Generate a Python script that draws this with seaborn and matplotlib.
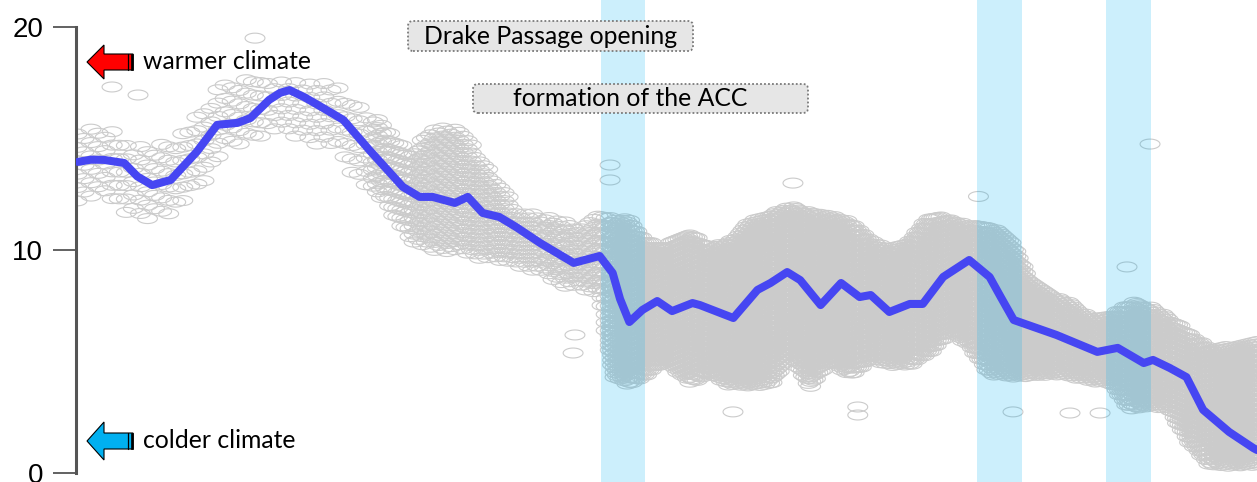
import numpy as np
import matplotlib
matplotlib.use("Agg")
import matplotlib.pyplot as plt
import seaborn as sns
import pandas as pd
from matplotlib.path import Path
from matplotlib.patches import FancyBboxPatch, Polygon, Rectangle
from matplotlib.lines import Line2D

# ---------------- data ----------------
# smoothed curve: age (Ma) and value
curve_age = [63.5, 62.8, 62.1, 61.0, 60.3, 59.5, 58.5, 57.1, 56.0, 54.9, 54.2, 53.2, 52.6, 52.1,
             51.3, 50.3, 49.2, 47.8, 46.0, 45.1, 44.4, 43.2, 42.5, 41.7, 40.8, 39.9, 38.6,
             36.8, 35.4, 34.7, 34.3, 33.8, 33.1, 32.3, 31.5, 30.4, 30.0, 28.2, 26.9, 26.2,
             25.3, 24.6, 23.5, 22.4, 21.4, 20.8, 19.8, 18.7, 18.0, 16.9, 15.5, 14.4, 13.8,
             13.1, 10.8, 8.6, 7.5, 6.1, 5.6, 4.7, 3.8, 2.9, 1.5, 0.2, 0.0]
curve_val = [13.95, 14.05, 14.04, 13.9, 13.3, 12.91, 13.14, 14.4, 15.61, 15.70, 15.92, 16.73,
             17.05, 17.17, 16.85, 16.37, 15.83, 14.48, 12.83, 12.38, 12.38, 12.11, 12.38,
             11.66, 11.48, 11.03, 10.31, 9.42, 9.73, 8.97, 7.8, 6.77, 7.31, 7.71, 7.26, 7.62,
             7.53, 6.95, 8.21, 8.52, 9.01, 8.65, 7.53, 8.52, 7.89, 7.98, 7.22, 7.58, 7.58,
             8.79, 9.55, 8.79, 7.89, 6.86, 6.19, 5.43, 5.61, 4.93, 5.07, 4.71, 4.30, 2.83,
             1.84, 1.12, 1.03]

# envelope of the dense cloud of measurements (age, lower, upper, density level)
cloud_age = [63.4, 61.8, 60.7, 59.6, 58.3, 56.9, 55.6, 54.2, 53.2, 52.1, 51.0, 49.7, 48.3, 47.0,
             45.6, 44.5, 42.9, 41.8, 40.8, 39.7, 38.6, 37.5, 36.5, 35.4, 34.6, 33.8, 33.0,
             31.9, 30.5, 29.5, 28.4, 27.3, 26.2, 25.1, 24.1, 23.0, 21.9, 20.8, 19.8, 18.7,
             17.6, 16.5, 15.5, 14.4, 13.3, 12.2, 11.1, 10.1, 9.0, 7.9, 6.8, 5.8, 4.7, 3.6,
             2.5, 1.5, 0.4, 0.0]
cloud_hi = [15.6, 15.4, 14.7, 14.7, 15.0, 16.2, 17.8, 17.7, 17.5, 17.7, 17.7, 17.5, 16.5, 15.6,
            14.3, 15.5, 15.5, 14.1, 12.9, 11.7, 11.6, 11.4, 11.1, 11.6, 11.4, 11.4, 10.4,
            10.2, 10.8, 10.1, 10.4, 11.3, 11.6, 12.0, 11.7, 11.6, 11.3, 10.5, 10.1, 10.4,
            11.6, 11.4, 11.1, 11.1, 10.5, 8.6, 8.0, 7.7, 7.0, 7.1, 7.7, 7.5, 7.0, 6.2,
            5.6, 5.7, 5.9, 5.9]
cloud_lo = [12.2, 12.4, 11.3, 11.3, 11.7, 12.8, 14.4, 14.8, 15.3, 15.1, 14.8, 14.6, 12.9, 12.2,
            10.4, 9.9, 9.9, 9.6, 9.5, 9.2, 9.0, 8.4, 8.3, 7.9, 4.3, 3.9, 4.3,
            5.0, 4.0, 4.4, 3.9, 3.9, 3.9, 5.4, 3.8, 5.0, 4.3, 5.1, 4.8, 4.8,
            5.4, 6.3, 5.7, 4.4, 4.3, 4.3, 4.4, 4.3, 4.1, 4.0, 2.8, 3.0, 2.8, 1.3,
            0.3, 0.3, 0.3, 0.3]
cloud_level = [0] * 13 + [1] * 11 + [2] * 34

# isolated measurements
outlier_age = [61.66, 60.26, 53.96, 34.84, 34.84, 36.73, 36.83, 28.22, 24.99, 13.14,
               10.07, 8.45, 7.0, 5.76, 15.0, 21.5, 21.5]
outlier_val = [17.31, 16.95, 19.5, 13.81, 13.14, 6.19, 5.38, 2.74, 13.0, 2.74,
               2.69, 2.69, 9.24, 14.75, 12.4, 2.96, 2.6]

# highlighted events (start / end age, Ma)
event_start = [35.33, 15.08, 8.13]
event_end = [32.96, 12.65, 5.71]

y_ticks = [0, 10, 20]
y_ticklabels = ["0", "10", "20"]
box_labels = ["Drake Passage opening", "formation of the ACC"]
arrow_labels = ["warmer climate", "colder climate"]

# ---------------- build cloud points from the envelope ----------------
order = np.argsort(cloud_age)
ca = np.asarray(cloud_age)[order]
clo = np.asarray(cloud_lo)[order]
chi = np.asarray(cloud_hi)[order]
clev = np.asarray(cloud_level)[order]
step_a = {0: 0.38, 1: 0.22, 2: 0.13}
step_v = {0: 0.6, 1: 0.36, 2: 0.22}
pa, pv = [], []
a = 63.55
k = 0
phi = (np.sqrt(5) - 1) / 2
while a > -0.1:
    lev = int(clev[np.argmin(np.abs(ca - a))])
    lo = np.interp(a, ca, clo)
    hi = np.interp(a, ca, chi)
    sv = step_v[lev]
    off = ((k * phi) % 1.0) * sv
    for v in np.arange(lo + off, hi + 1e-9, sv):
        pa.append(a)
        pv.append(v)
    a -= step_a[lev]
    k += 1
cloud = pd.DataFrame({"age": pa + outlier_age, "val": pv + outlier_val})
curve = pd.DataFrame({"age": curve_age, "val": curve_val})

# ---------------- figure ----------------
sns.set_style("white")
plt.rcParams["font.family"] = ["Liberation Sans", "DejaVu Sans"]

W, H = 1257, 482
fig = plt.figure(figsize=(W / 100, H / 100), dpi=100)
ax = fig.add_axes([76 / W, 0, 1 - 76 / W, 1])

theta = np.linspace(0, 2 * np.pi, 48)
ellipse = Path(np.column_stack([np.cos(theta), 0.5 * np.sin(theta)]), closed=True)

sns.scatterplot(data=cloud, x="age", y="val", ax=ax, marker=ellipse, s=205,
                facecolor="none", edgecolor="#cbcbcb", linewidth=0.8, zorder=1,
                legend=False)

for s0, s1 in zip(event_start, event_end):
    ax.axvspan(s0, s1, color="#00B0F0", alpha=0.2, lw=0, zorder=2)

sns.lineplot(data=curve, x="age", y="val", ax=ax, color="#4646F2", linewidth=5.8,
             estimator=None, zorder=3, solid_capstyle="round", solid_joinstyle="round")

ax.set_xlim(63.6, 0)
ax.set_ylim(-0.404, 21.21)
ax.set_xlabel("")
ax.set_ylabel("")
ax.set_xticks([])
ax.set_yticks(y_ticks)
ax.set_yticklabels(y_ticklabels)
ax.tick_params(axis="y", length=16.5, width=1.3, color="#555555", pad=7,
               labelsize=20, labelcolor="black", left=True)
for side in ["top", "right", "bottom"]:
    ax.spines[side].set_visible(False)
ax.spines["left"].set_bounds(0, 20)
ax.spines["left"].set_linewidth(2.2)
ax.spines["left"].set_color("#555555")
ax.set_facecolor("white")


def P(x, y):
    return (x / W, 1 - y / H)


# annotation boxes
box_geo = [(408, 21, 693, 51, 551, 37), (473, 84, 808, 113, 630, 99)]
for (x0, y0, x1, y1, tx, ty), lab in zip(box_geo, box_labels):
    bx, by = P(x0, y1)
    patch = FancyBboxPatch((bx, by), (x1 - x0) / W, (y1 - y0) / H,
                           boxstyle="round,pad=0,rounding_size=0.004",
                           mutation_aspect=W / H, transform=fig.transFigure,
                           facecolor="#e6e6e6", edgecolor="#7a7a7a",
                           linestyle=(0, (1, 1.2)), linewidth=1.3, zorder=5)
    fig.add_artist(patch)
    fig.text(*P(tx, ty), lab, ha="center", va="center", fontsize=17.8,
             family=["Lato", "DejaVu Sans"], color="black", zorder=6)

# climate arrows
arrow_geo = [(62, 45, 79, 54, 70, "#FF0000", 69), (441, 422, 460, 433, 449, "#00B0F0", 448)]
for (cy, ht, hb, st, sb, col, base), lab in zip(arrow_geo, arrow_labels):
    pts = [P(87, cy), P(104, ht), P(104, st), P(133, st), P(133, sb), P(104, sb), P(104, hb)]
    fig.add_artist(Polygon(pts, closed=True, transform=fig.transFigure,
                           facecolor=col, edgecolor="black", linewidth=0.8, zorder=5))
    rx, ry = P(130.7, sb)
    fig.add_artist(Rectangle((rx, ry), 2.6 / W, (sb - st) / H, transform=fig.transFigure,
                             facecolor="black", edgecolor="black", linewidth=0.5, zorder=6))
    fig.add_artist(Line2D([128.3 / W, 128.3 / W], [P(0, st)[1], P(0, sb)[1]],
                          transform=fig.transFigure, color="black", linewidth=0.9, zorder=6))
    fig.text(*P(143, base), lab, ha="left", va="baseline", fontsize=17.8,
             family=["Lato", "DejaVu Sans"], color="black", zorder=6)

fig.savefig("out.png", dpi=100)
